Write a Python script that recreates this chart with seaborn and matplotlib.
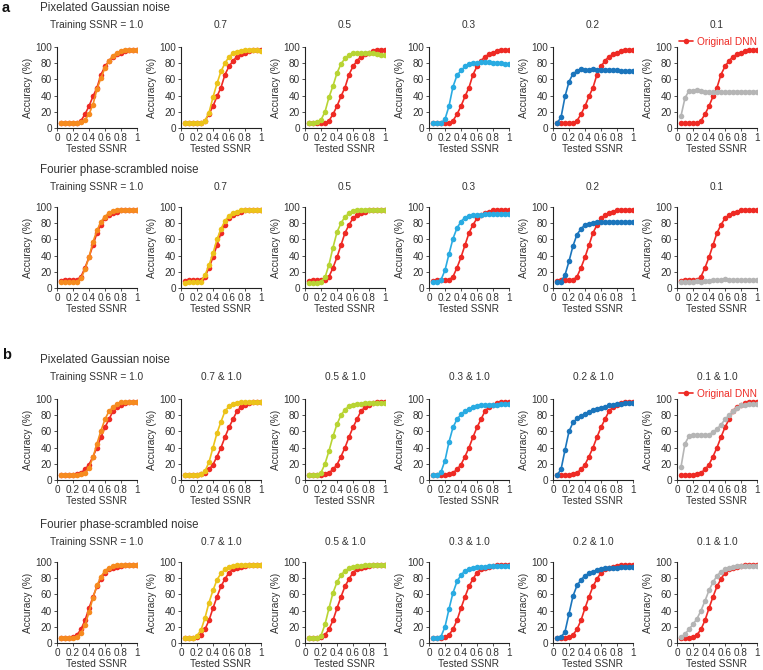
import matplotlib
matplotlib.use("Agg")
import matplotlib.pyplot as plt
import seaborn as sns

# ---- data -------------------------------------------------------------
tested_ssnr = [0.05, 0.10, 0.15, 0.20, 0.25, 0.30, 0.35, 0.40, 0.45, 0.50,
               0.55, 0.60, 0.65, 0.70, 0.75, 0.80, 0.85, 0.90, 0.95, 1.00]

titles_a = ["Training SSNR = 1.0", "0.7", "0.5", "0.3", "0.2", "0.1"]
titles_b = ["Training SSNR = 1.0", "0.7 & 1.0", "0.5 & 1.0", "0.3 & 1.0", "0.2 & 1.0", "0.1 & 1.0"]
headings = ["Pixelated Gaussian noise", "Fourier phase-scrambled noise"]
x_ticklabels = ["0", "0.2", "0.4", "0.6", "0.8", "1"]

# original DNN (accuracy %)
orig_a_gauss = [6, 6, 6, 6, 6, 9, 17, 27, 39, 50, 66, 76, 83, 88, 91, 93, 95, 96, 96, 96]
orig_a_fourier = [9, 10, 10, 10, 10, 14, 25, 38, 53, 68, 78, 86, 90, 92, 94, 96, 96, 96, 96, 96]
orig_b_gauss = [6, 6, 6, 6, 7, 9, 13, 19, 29, 40, 53, 65, 75, 85, 90, 93, 95, 96, 96, 96]
orig_b_fourier = [6, 6, 6, 7, 10, 17, 28, 43, 57, 70, 79, 87, 91, 93, 94, 95, 96, 96, 96, 96]

# noise-trained DNNs, one list per training SSNR (1.0, 0.7, 0.5, 0.3, 0.2, 0.1)
trained_a_gauss = [
    [6, 6, 6, 6, 6, 7, 10, 17, 29, 48, 62, 74, 83, 89, 93, 95, 96, 96, 96, 96],
    [6, 6, 6, 6, 6, 9, 19, 38, 55, 70, 80, 88, 92, 94, 95, 96, 96, 96, 96, 95],
    [6, 6, 7, 10, 20, 38, 52, 68, 79, 86, 90, 92, 92, 92, 92, 92, 92, 91, 90, 90],
    [6, 6, 6, 11, 27, 51, 65, 71, 76, 79, 80, 80, 81, 81, 81, 80, 80, 80, 79, 79],
    [6, 13, 39, 57, 67, 70, 73, 72, 72, 73, 72, 72, 72, 72, 71, 71, 70, 70, 70, 70],
    [15, 37, 46, 46, 47, 46, 45, 45, 44, 45, 45, 44, 45, 45, 45, 45, 45, 45, 45, 45],
]
trained_a_fourier = [
    [7, 7, 7, 7, 8, 12, 23, 38, 57, 71, 82, 88, 93, 95, 96, 96, 96, 96, 96, 96],
    [6, 7, 7, 7, 8, 16, 28, 43, 60, 73, 83, 89, 93, 94, 96, 96, 96, 96, 96, 96],
    [6, 6, 6, 8, 13, 29, 50, 69, 80, 88, 92, 95, 96, 96, 96, 96, 96, 96, 96, 96],
    [8, 8, 10, 22, 42, 61, 74, 82, 87, 89, 90, 90, 90, 91, 91, 91, 91, 91, 91, 91],
    [7, 8, 16, 33, 52, 66, 73, 78, 79, 80, 81, 81, 81, 82, 82, 81, 81, 81, 81, 81],
    [7, 8, 8, 8, 9, 8, 9, 9, 10, 10, 10, 11, 10, 10, 10, 10, 10, 10, 10, 10],
]
trained_b_gauss = [
    [6, 6, 6, 6, 6, 7, 9, 15, 28, 45, 61, 75, 85, 90, 94, 96, 96, 96, 96, 96],
    [6, 6, 6, 6, 7, 11, 22, 40, 58, 72, 85, 91, 94, 95, 96, 96, 96, 96, 96, 96],
    [6, 6, 6, 9, 20, 36, 54, 69, 80, 87, 91, 93, 94, 94, 95, 95, 95, 95, 95, 95],
    [6, 6, 10, 24, 47, 65, 75, 81, 85, 88, 90, 91, 92, 92, 93, 93, 93, 94, 94, 94],
    [6, 13, 37, 60, 71, 76, 79, 82, 84, 86, 88, 89, 90, 92, 93, 94, 94, 95, 95, 95],
    [16, 45, 54, 55, 55, 55, 55, 56, 59, 63, 68, 75, 80, 85, 89, 92, 93, 94, 94, 94],
]
trained_b_fourier = [
    [6, 6, 6, 6, 8, 12, 22, 38, 56, 71, 82, 89, 93, 95, 96, 96, 96, 96, 96, 96],
    [6, 6, 6, 9, 16, 31, 50, 65, 78, 86, 91, 94, 95, 96, 96, 96, 96, 96, 96, 96],
    [6, 6, 6, 9, 23, 43, 62, 75, 84, 89, 92, 94, 95, 95, 96, 96, 96, 96, 96, 96],
    [6, 6, 8, 20, 42, 62, 76, 84, 89, 91, 93, 94, 94, 94, 95, 95, 95, 95, 95, 95],
    [6, 7, 14, 36, 58, 71, 78, 83, 86, 88, 90, 91, 92, 93, 93, 93, 94, 94, 94, 94],
    [7, 11, 17, 23, 30, 40, 52, 65, 75, 83, 88, 91, 93, 94, 95, 95, 95, 95, 95, 95],
]

# ---- style ------------------------------------------------------------
sns.set_theme(style="ticks")
plt.rcParams["font.family"] = ["Liberation Sans", "DejaVu Sans"]

red = "#ee2a24"
trained_colors = ["#f68b1f", "#ecc31a", "#b8d433", "#29abe2", "#1b75bc", "#b5b5b5"]
txt = "#333333"

W, H = 763, 670
fig = plt.figure(figsize=(W / 100, H / 100), dpi=100)

col_left = [57, 181, 305, 429, 553, 677]
ax_w, ax_h = 80, 81
rows = [
    # (axis top px, title y px, heading y px, original, trained, titles, heading, legend?)
    (47, 25, 8, orig_a_gauss, trained_a_gauss, titles_a, headings[0], True),
    (207, 187, 170, orig_a_fourier, trained_a_fourier, titles_a, headings[1], False),
    (399, 377, 360, orig_b_gauss, trained_b_gauss, titles_b, headings[0], True),
    (562, 542, 525, orig_b_fourier, trained_b_fourier, titles_b, headings[1], False),
]

for top, title_y, head_y, orig, trained, titles, heading, show_leg in rows:
    fig.text(40 / W, 1 - head_y / H, heading, fontsize=8.3, color=txt, va="center")
    for c in range(6):
        ax = fig.add_axes([col_left[c] / W, 1 - (top + ax_h) / H, ax_w / W, ax_h / H])
        sns.lineplot(x=tested_ssnr, y=orig, ax=ax, color=red, marker="o",
                     markersize=4, markeredgewidth=0, linewidth=1.2,
                     label="Original DNN")
        sns.lineplot(x=tested_ssnr, y=trained[c], ax=ax, color=trained_colors[c],
                     marker="o", markersize=4, markeredgewidth=0, linewidth=1.2)
        ax.set_xlim(0, 1.0)
        ax.set_ylim(0, 100)
        ax.set_xticks([0, 0.2, 0.4, 0.6, 0.8, 1.0])
        ax.set_xticklabels(x_ticklabels)
        ax.set_yticks([0, 20, 40, 60, 80, 100])
        ax.tick_params(length=2, width=0.6, pad=1.5, labelsize=7.2, colors=txt)
        for s in ["left", "bottom"]:
            ax.spines[s].set_linewidth(0.8)
            ax.spines[s].set_color("#222222")
        sns.despine(ax=ax)
        ax.set_xlabel("Tested SSNR", fontsize=7.3, color=txt, labelpad=1)
        ax.set_ylabel("Accuracy (%)", fontsize=7.3, color=txt, labelpad=1.5)
        fig.text((col_left[c] + ax_w / 2) / W, 1 - title_y / H, titles[c],
                 fontsize=7.3, color=txt, ha="center", va="center")
        leg = ax.get_legend()
        if leg is not None:
            leg.remove()
        if show_leg and c == 5:
            h, l = ax.get_legend_handles_labels()
            ax.legend(h[:1], l[:1], loc="lower right", bbox_to_anchor=(1.0, 1.0),
                      frameon=False, handlelength=1.4, handletextpad=0.4,
                      borderaxespad=0, borderpad=0, fontsize=7.3, labelcolor=red)

fig.text(2 / W, 1 - 8 / H, "a", fontsize=10.5, fontweight="bold", va="center", color="#111111")
fig.text(2 / W, 1 - 355 / H, "b", fontsize=10.5, fontweight="bold", va="center", color="#111111")

fig.savefig("out.png", dpi=100)
